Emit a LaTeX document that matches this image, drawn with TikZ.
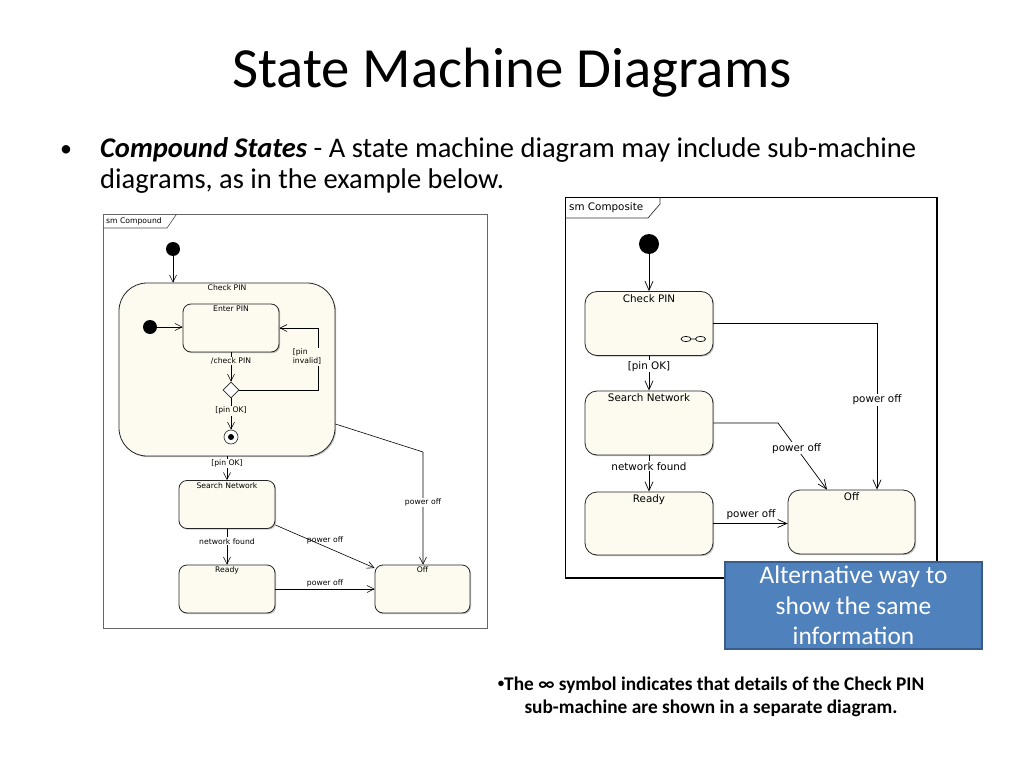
\documentclass[tikz,border=0pt]{standalone}
\usepackage{fontspec}
\setmainfont{Carlito}
\newfontfamily\diagfont{DejaVu Sans}
\usetikzlibrary{arrows.meta,shapes.geometric,shadows,calc}
\definecolor{cream}{RGB}{253,251,240}
\definecolor{boxblue}{RGB}{79,129,189}
\definecolor{boxedge}{RGB}{56,93,138}
\begin{document}
\begin{tikzpicture}[x=1bp,y=-1bp,
  st/.style={draw=black!85, fill=cream, rounded corners=8bp, line width=0.8bp,
    drop shadow={shadow xshift=1.2bp,shadow yshift=-1.2bp,fill=black!40,opacity=0.6},
    minimum width=96bp, minimum height=48bp, inner sep=0pt},
  stR/.style={st, rounded corners=12bp, minimum width=128bp, minimum height=64bp},
  lfont/.style={font=\diagfont\fontsize{7.7}{9}\selectfont},
  rfont/.style={font=\diagfont\fontsize{10.4}{12}\selectfont},
  ttl/.style={label={[lfont,anchor=north,inner sep=2bp]north:#1}},
  ttlR/.style={label={[rfont,anchor=north,inner sep=3bp]north:#1}},
  arr/.style={-{Straight Barb[length=7bp,width=7bp]}, line width=0.6bp},
  arrR/.style={-{Straight Barb[length=9bp,width=8bp]}, line width=0.7bp},
  lab/.style={lfont, inner sep=1bp},
  labR/.style={rfont, inner sep=1bp},
  dot/.style={circle, fill=black, inner sep=0pt, minimum size=#1}
]
\useasboundingbox (0,0) rectangle (1024,768);
\fill[white] (0,0) rectangle (1024,768);

% ---- slide text ----
\node[anchor=base, font=\fontsize{57}{64}\selectfont] (title) at (512,88) {State Machine Diagrams};
\node[anchor=base, font=\fontsize{24}{32}\selectfont] (bul) at (66,156) {•};
\node[anchor=base west, font=\fontsize{28.6}{32}\selectfont, inner sep=0pt] (l1) at (100,157)
  {\textbf{\textit{Compound States}} - A state machine diagram may include sub-machine};
\node[anchor=base west, font=\fontsize{28.6}{32}\selectfont, inner sep=0pt] (l2) at (100,188)
  {diagrams, as in the example below.};

% ---- left diagram ----
\draw[black!60, line width=0.8bp] (103,214) rectangle (487,628);
\draw[black!70, line width=0.6bp] (103,228) -- (167,228) -- (176,215) -- (176,214);
\node[lfont, anchor=west, inner sep=0pt] (smc) at (106,221) {sm Compound};

\node[dot=14bp] (i1) at (173,249) {};
\node[st, rounded corners=28bp, minimum width=216bp, minimum height=173bp, ttl={Check PIN}] (cp) at (227,369.5) {};
\node[dot=14bp] (i2) at (150,327) {};
\node[st, ttl={Enter PIN}] (ep) at (231,328) {};
\node[diamond, draw=black!85, fill=white, minimum width=16bp, minimum height=16bp, inner sep=0pt, line width=0.6bp] (dia) at (231,390) {};
\node[circle, draw=black!85, fill=white, minimum size=14bp, inner sep=0pt, line width=0.6bp] (fin) at (231,437) {};
\node[dot=6bp] (find) at (fin.center) {};
\node[st, ttl={Search Network}] (sn) at (227,504.5) {};
\node[st, ttl={Ready}] (rd) at (227,589) {};
\node[st, minimum width=95bp, ttl={Off}] (off) at (422.5,589) {};

\draw[arr] (i1) -- (i1 |- cp.north);
\draw[arr] (i2) -- (i2 -| ep.west);
\draw[arr] (ep.south) -- node[lab, fill=cream, pos=0.3] {/check PIN} (dia.north);
\coordinate (pinv) at (318,390);
\draw[arr] (dia.east) -- (pinv) |- (ep.east);
\node[lab, align=left, fill=cream] (pinvl) at (307,357) {[pin\\invalid]};
\draw[arr] (dia.south) -- node[lab, fill=cream, pos=0.4] {[pin OK]} (fin.north);
\draw[arr] (cp.south) -- node[lab, fill=white, pos=0.3] {[pin OK]} (sn.north);
\draw[arr] (sn.south) -- node[lab, fill=white, pos=0.35] {network found} (rd.north);
\draw[arr] (rd.east) -- node[lab, above=1bp] {power off} (rd.east -| off.west);
\draw[arr] ($(sn.east)+(0,20.5)$) -- ($(off.west)+(0,-21)$);
\node[lab] (po1) at (325,540) {power off};
\coordinate (k1) at (423,452);
\draw[arr] ($(cp.east)+(0,54.5)$) -- (k1) -- node[lab, fill=white, pos=0.45] {power off} (k1 |- off.north);

% ---- right diagram ----
\draw[black, line width=1bp] (565,197) rectangle (937,578);
\draw[black, line width=1.6bp] (565,578) -- (937,578) -- (937,197);
\draw[black!80, line width=0.7bp] (565,218) -- (648,218) -- (660,204) -- (660,197);
\node[rfont, anchor=west, inner sep=0pt] (smr) at (569,208) {sm Composite};

\node[dot=20bp] (i3) at (649,244) {};
\node[stR, ttlR={Check PIN}] (cp2) at (649,323.5) {};
\draw[line width=0.7bp] (686,339) ellipse [x radius=5bp, y radius=2.6bp]
  (700.5,339) ellipse [x radius=5bp, y radius=2.6bp] (691,339) -- (695.5,339);
\node[stR, ttlR={Search Network}] (sn2) at (649,423) {};
\node[stR, minimum height=63bp, ttlR={Ready}] (rd2) at (649,523.5) {};
\node[stR, minimum width=127bp, ttlR={Off}] (off2) at (851.5,522) {};

\draw[arrR] (i3) -- (cp2.north);
\draw[arrR] (cp2.south) -- node[labR, fill=white, pos=0.3] {[pin OK]} (sn2.north);
\draw[arrR] (sn2.south) -- node[labR, fill=white, pos=0.3] {network found} (rd2.north);
\draw[arrR] (rd2.east) -- (rd2.east -| off2.west);
\node[labR] (po4) at (751,515) {power off};
\coordinate (c2) at (877,323.5);
\draw[arrR] (cp2.east) -- (c2) -- node[labR, fill=white, pos=0.46] {power off} (c2 |- off2.north);
\coordinate (c3) at (778,423);
\draw[arrR] (sn2.east) -- (c3) -- node[labR, fill=white, pos=0.38] {power off} ($(off2.north)+(-24.5,0)$);

% ---- callout ----
\node[draw=boxedge, fill=boxblue, line width=1.5bp, minimum width=257bp, minimum height=87bp,
  text=white, align=center, font=\fontsize{25.5}{30.5}\selectfont, inner sep=0pt] (callout) at (853.5,605.5)
  {Alternative way to\\show the same\\information};

\node[align=center, font=\bfseries\fontsize{19.4}{23}\selectfont, anchor=base] (note) at (711,713)
  {\raisebox{3bp}{\fontsize{13}{13}\selectfont•}The ∞ symbol indicates that details of the Check PIN\\sub-machine are shown in a separate diagram.};
\end{tikzpicture}
\end{document}
